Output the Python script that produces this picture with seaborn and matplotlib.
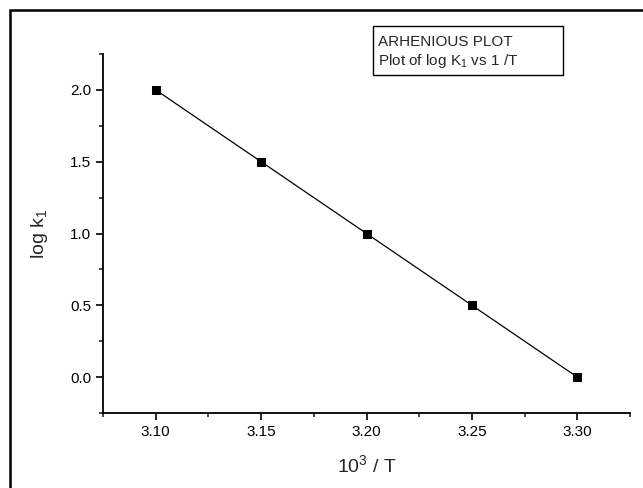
import numpy as np
import pandas as pd
import matplotlib
matplotlib.use("Agg")
import matplotlib.pyplot as plt
import seaborn as sns
from matplotlib.patches import Rectangle
from matplotlib.ticker import MultipleLocator

# data
inv_T = [3.10, 3.15, 3.20, 3.25, 3.30]
log_k1 = [2.0, 1.5, 1.0, 0.5, 0.0]
x_ticks = [3.10, 3.15, 3.20, 3.25, 3.30]
y_ticks = [0.0, 0.5, 1.0, 1.5, 2.0]

sns.set_style("ticks")
plt.rcParams['font.family'] = ['Liberation Sans', 'DejaVu Sans']
plt.rcParams['mathtext.fontset'] = 'custom'
plt.rcParams['mathtext.rm'] = 'Liberation Sans'
plt.rcParams['mathtext.it'] = 'Liberation Sans'

df = pd.DataFrame({"x": inv_T, "y": log_k1})

W, H = 643, 488
fig = plt.figure(figsize=(W / 100, H / 100), dpi=100)
ax = fig.add_axes([103 / W, 1 - 413 / H, 527 / W, 359 / H])

sns.lineplot(data=df, x="x", y="y", ax=ax, color="black", linewidth=0.9,
             marker="s", markersize=6, markeredgecolor="black")

ax.set_xlim(3.075, 3.325)
ax.set_ylim(-0.25, 2.25)
ax.set_xticks(x_ticks)
ax.set_xticklabels([f"{v:.2f}" for v in x_ticks])
ax.set_yticks(y_ticks)
ax.set_yticklabels([f"{v:.1f}" for v in y_ticks])
ax.xaxis.set_minor_locator(MultipleLocator(0.025))
ax.yaxis.set_minor_locator(MultipleLocator(0.25))
ax.tick_params(which="major", direction="out", length=5, width=1.2, labelsize=11, colors="black")
ax.tick_params(which="minor", direction="out", length=3, width=1.2)

sns.despine(ax=ax)
for s in ["left", "bottom"]:
    ax.spines[s].set_linewidth(1.3)
    ax.spines[s].set_color("black")

ax.set_xlabel("10$^3$ / T", fontsize=14)
ax.set_ylabel("log k$_1$", fontsize=14)
ax.xaxis.set_label_coords(0.5, -0.115)
ax.yaxis.set_label_coords(-0.10, 0.5)

# legend-like text box
fig.text(378 / W, 1 - 46 / H, "ARHENIOUS PLOT", fontsize=11, va="baseline", ha="left")
fig.text(378 / W, 1 - 65 / H, "Plot of log K$_1$ vs 1 /T", fontsize=11, va="baseline", ha="left")
fig.patches.append(Rectangle((373 / W, 1 - 75 / H), 190 / W, 49 / H,
                             transform=fig.transFigure, fill=False,
                             edgecolor="black", linewidth=1.0))

# outer frame
fig.patches.append(Rectangle((10 / W, -0.1), 1.2, 1 - 10 / H + 0.1,
                             transform=fig.transFigure, fill=False,
                             edgecolor="black", linewidth=1.8))

fig.savefig("out.png", dpi=100)
